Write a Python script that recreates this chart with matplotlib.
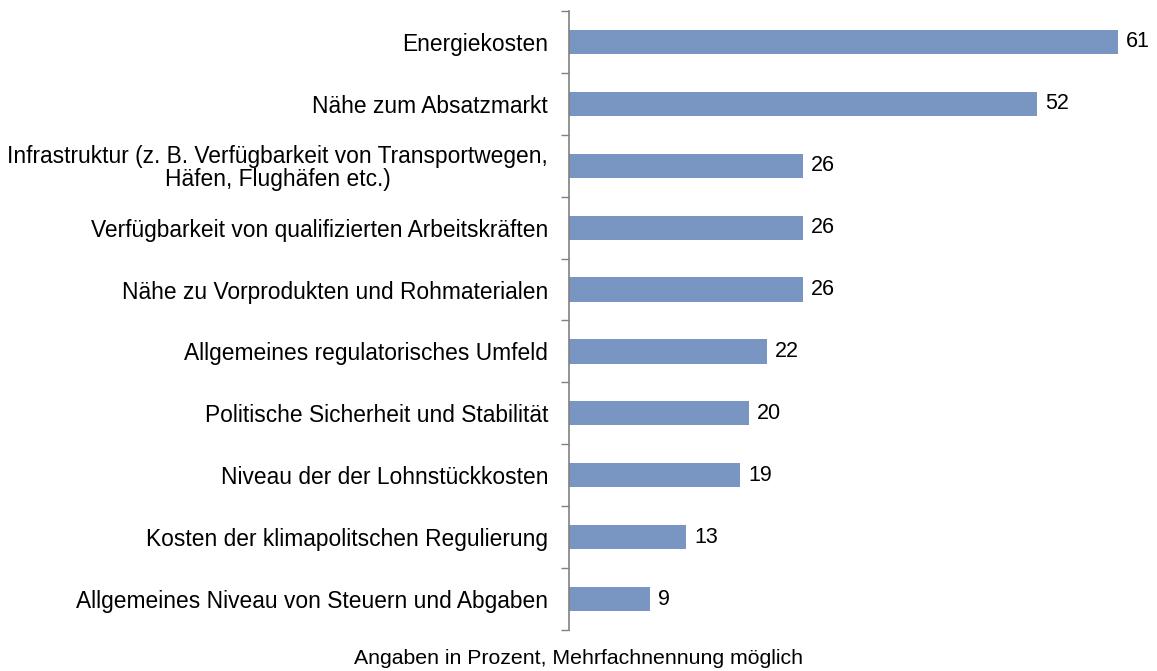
import numpy as np
import matplotlib.pyplot as plt
from matplotlib.ticker import FixedLocator

plt.rcParams['font.family'] = ['Liberation Sans', 'DejaVu Sans']

categories = [
    'Energiekosten',
    'Nähe zum Absatzmarkt',
    'Infrastruktur (z. B. Verfügbarkeit von Transportwegen,\nHäfen, Flughäfen etc.)',
    'Verfügbarkeit von qualifizierten Arbeitskräften',
    'Nähe zu Vorprodukten und Rohmaterialen',
    'Allgemeines regulatorisches Umfeld',
    'Politische Sicherheit und Stabilität',
    'Niveau der der Lohnstückkosten',
    'Kosten der klimapolitschen Regulierung',
    'Allgemeines Niveau von Steuern und Abgaben',
]
values = [61, 52, 26, 26, 26, 22, 20, 19, 13, 9]

W, H = 1157, 671
fig = plt.figure(figsize=(W / 100, H / 100), dpi=100)
ax = fig.add_axes([569 / W, 1 - 630 / H, 585 / W, 619 / H])

y = np.arange(len(values))
ax.barh(y, values, height=0.39, color='#7996c3')
ax.set_ylim(len(values) - 0.5, -0.5)
ax.set_xlim(0, 65)

for yi, v in zip(y, values):
    ax.text(v + 0.9, yi, str(v), va='center', ha='left', fontsize=15.5, color='black')

ax.set_yticks(y)
ax.set_yticklabels(categories, fontsize=16.4, multialignment='center', linespacing=1.0)
ax.tick_params(axis='y', which='major', length=0, pad=15)
ax.yaxis.set_minor_locator(FixedLocator(np.arange(-0.5, len(values), 1)))
ax.tick_params(axis='y', which='minor', length=6, width=1, color='#808080', direction='out')

ax.set_xticks([])
for s in ['top', 'right', 'bottom']:
    ax.spines[s].set_visible(False)
ax.spines['left'].set_color('#808080')
ax.spines['left'].set_linewidth(1.2)

fig.text(0.5, 1 - 659 / H, 'Angaben in Prozent, Mehrfachnennung möglich',
         ha='center', va='center', fontsize=15.3)

fig.savefig('out.png', dpi=100)
